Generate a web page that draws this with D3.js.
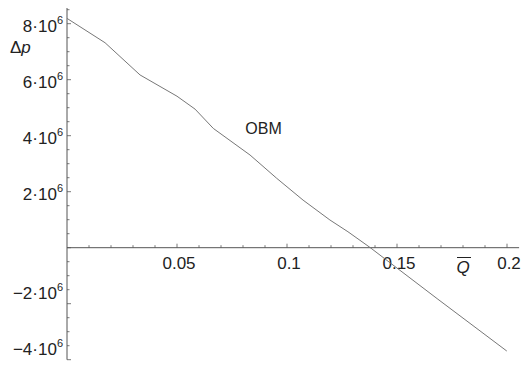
<!DOCTYPE html>
<html><head><meta charset="utf-8">
<script src="https://cdn.jsdelivr.net/npm/d3@7"></script>
<style>
html,body{margin:0;padding:0;background:#fff;}
svg{display:block;font-family:"Liberation Sans",Arial,sans-serif;}
</style></head>
<body><svg id="c" width="525" height="367"></svg>
<script>
// Data
const qValues = [0, 0.0173, 0.0332, 0.0500, 0.0582, 0.0665, 0.0832, 0.0953, 0.1073, 0.1195, 0.1277, 0.1377, 0.1686, 0.1999];
const dpValues = [8.19e6, 7.32e6, 6.17e6, 5.41e6, 4.95e6, 4.26e6, 3.31e6, 2.48e6, 1.70e6, 0.99e6, 0.57e6, 0.01e6, -1.84e6, -3.69e6];
const xMajorTicks = [0.05, 0.1, 0.15, 0.2];
const xTickLabels = ["0.05", "0.1", "0.15", "0.2"];
const yMajorTicks = [8e6, 6e6, 4e6, 2e6, -2e6, -4e6];
const yTickMantissa = ["8", "6", "4", "2", "\u22122", "\u22124"];
const curveLabel = "OBM";

const svg = d3.select("#c");
const x = d3.scaleLinear().domain([0, 0.2]).range([67, 507]);
const y = d3.scaleLinear().domain([0, 8e6]).range([247.7, 23.7]);
const axisColor = "#555", textColor = "#222";

// axes lines
svg.append("line").attr("x1", x(0)).attr("x2", x(0.2055)).attr("y1", y(0)).attr("y2", y(0))
  .attr("stroke", axisColor).attr("stroke-width", 1);
svg.append("line").attr("x1", x(0)).attr("x2", x(0)).attr("y1", y(8.56e6)).attr("y2", y(-4e6))
  .attr("stroke", axisColor).attr("stroke-width", 1);

// x ticks (inward = up)
const xMinor = d3.range(1, 21).map(i => i * 0.01);
svg.append("g").selectAll("line").data(xMinor).join("line")
  .attr("x1", d => x(d)).attr("x2", d => x(d))
  .attr("y1", y(0)).attr("y2", d => y(0) - (xMajorTicks.some(m => Math.abs(m - d) < 1e-9) ? 4 : 2.5))
  .attr("stroke", axisColor).attr("stroke-width", 0.8);
// y ticks (inward = right)
const yMinor = d3.range(-8, 18).map(i => i * 0.5e6);
svg.append("g").selectAll("line").data(yMinor).join("line")
  .attr("y1", d => y(d)).attr("y2", d => y(d))
  .attr("x1", x(0)).attr("x2", d => x(0) + (d % 2e6 === 0 ? 4 : 2.5))
  .attr("stroke", axisColor).attr("stroke-width", 0.8);

// x tick labels
svg.append("g").selectAll("text").data(xMajorTicks).join("text")
  .attr("x", d => x(d) + 2).attr("y", y(0) + 21.5)
  .attr("text-anchor", "middle").attr("font-size", 17).attr("fill", textColor)
  .text((d, i) => xTickLabels[i]);

// y tick labels
const yl = svg.append("g").selectAll("text").data(yMajorTicks).join("text")
  .attr("x", 63).attr("y", d => y(d) + (d > 0 ? 8.5 : -5))
  .attr("text-anchor", "end").attr("font-size", 17).attr("fill", textColor);
yl.append("tspan").text((d, i) => yTickMantissa[i] + "\u00B710");
yl.append("tspan").attr("font-size", 11).attr("dy", -8).text("6");

// axis labels
const dp = svg.append("text").attr("x", 10).attr("y", 53).attr("font-size", 17).attr("fill", textColor);
dp.append("tspan").text("\u0394");
dp.append("tspan").attr("font-style", "italic").text("p");

const qx = x(0.18);
svg.append("text").attr("x", qx).attr("y", 273).attr("text-anchor", "middle")
  .attr("font-size", 17).attr("font-style", "italic").attr("fill", textColor).text("Q");
svg.append("line").attr("x1", qx - 6).attr("x2", qx + 8).attr("y1", 257.5).attr("y2", 257.5)
  .attr("stroke", textColor).attr("stroke-width", 1);

// curve
const pts = qValues.map((q, i) => [q, dpValues[i]]);
svg.append("path").datum(pts)
  .attr("d", d3.line().x(d => x(d[0])).y(d => y(d[1])).curve(d3.curveLinear))
  .attr("fill", "none").attr("stroke", "#777").attr("stroke-width", 1);

svg.append("text").attr("x", 263.5).attr("y", 133.5).attr("text-anchor", "middle")
  .attr("font-size", 16).attr("fill", textColor).text(curveLabel);
</script></body></html>
